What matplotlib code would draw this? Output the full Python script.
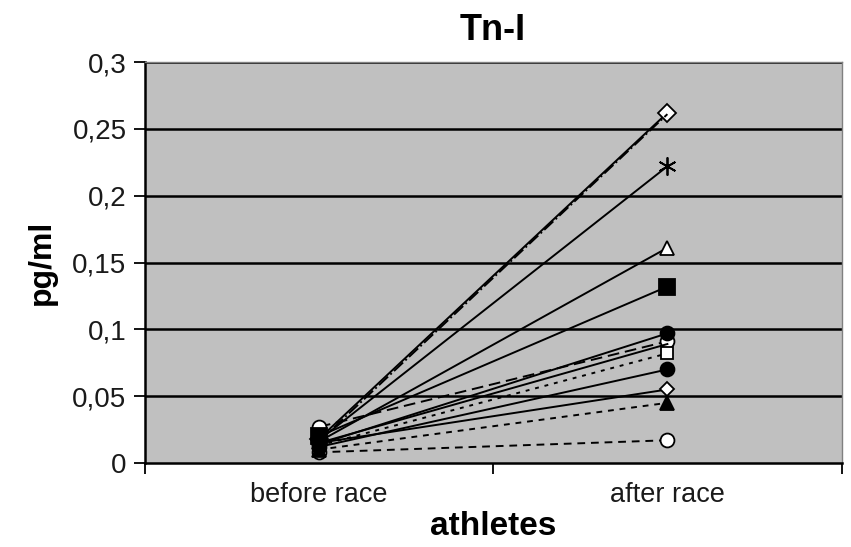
import matplotlib
matplotlib.use("Agg")
import matplotlib.pyplot as plt
from matplotlib.ticker import FixedLocator, FuncFormatter

plt.rcParams['font.family'] = ['Liberation Sans', 'DejaVu Sans']

categories = ["before race", "after race"]
before = [0.018, 0.016, 0.017, 0.016, 0.020, 0.014, 0.027, 0.015, 0.013, 0.012, 0.015, 0.010, 0.008]
after = [0.262, 0.261, 0.222, 0.161, 0.132, 0.097, 0.091, 0.089, 0.082, 0.070, 0.055, 0.045, 0.017]
styles = ["-", "-.", "-", "-", "-", "-", (0, (6, 3)), "-", (0, (2, 3)), "-", "-", (0, (3, 3)), (0, (4, 3))]
markers = ["D", "", (6, 2, 0), "^", "s", "o", "o", "", "s", "o", "D", "^", "o"]
fills = ["white", "black", "black", "white", "black", "black", "white", "black", "white", "black", "white", "black", "white"]
msizes = [9, 0, 13, 10, 11, 10, 10, 0, 8, 10, 7, 10, 10]
yticks = [0, 0.05, 0.1, 0.15, 0.2, 0.25, 0.3]

fig = plt.figure(figsize=(8.51, 5.47), dpi=100)
ax = fig.add_axes([0.170, 0.1536, 0.819, 0.733])
ax.set_facecolor("#c0c0c0")

xpos = [0.5, 1.5]
for i in range(len(after)):
    z = 4 if fills[i] == "black" else 3
    ax.plot(xpos, [before[i], after[i]], linestyle=styles[i], color="black", lw=1.4,
            marker=markers[i] if markers[i] else None, markersize=msizes[i],
            markerfacecolor=fills[i], markeredgecolor="black", markeredgewidth=1.3,
            zorder=z + i * 0.01)

ax.set_xlim(0, 2)
ax.set_ylim(0, 0.3)
ax.yaxis.set_major_locator(FixedLocator(yticks))
ax.yaxis.set_major_formatter(FuncFormatter(lambda v, p: ("%g" % v).replace(".", ",")))
for y in yticks[1:]:
    ax.axhline(y, color="black", lw=1.8, zorder=1)

ax.set_xticks([0, 1, 2])
ax.set_xticklabels(["", "", ""])
ax.set_xticks(xpos, minor=True)
ax.set_xticklabels(categories, minor=True)
ax.tick_params(axis="x", which="minor", length=0, pad=14, labelsize=19.5, colors="#1a1a1a")
ax.tick_params(axis="x", which="major", length=8, width=1.3, direction="out")
ax.tick_params(axis="y", length=8, width=1.3, direction="out", labelsize=20, pad=5, labelcolor="#1a1a1a")

for s in ["left", "bottom"]:
    ax.spines[s].set_color("black")
    ax.spines[s].set_linewidth(1.8)
for s in ["top", "right"]:
    ax.spines[s].set_color("#808080")
    ax.spines[s].set_linewidth(1.0)

ax.set_title("Tn-I", fontsize=26, fontweight="bold", pad=16)
ax.set_xlabel("athletes", fontsize=24, fontweight="bold", labelpad=2)
ax.set_ylabel("pg/ml", fontsize=23, fontweight="bold", labelpad=11)

fig.savefig("out.png", dpi=100, facecolor="white")
